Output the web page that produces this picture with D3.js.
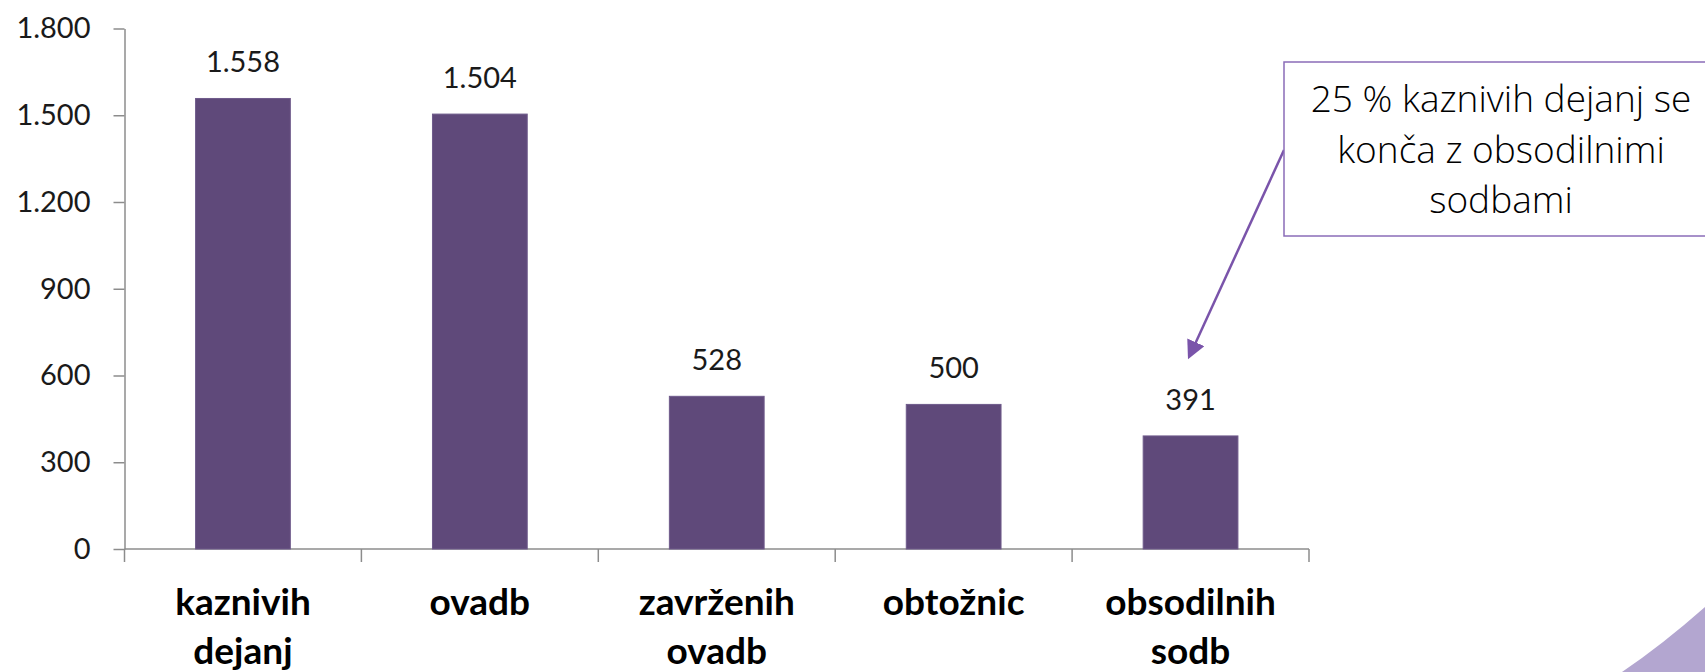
<!DOCTYPE html>
<html>
<head>
<meta charset="utf-8">
<script src="https://cdn.jsdelivr.net/npm/d3@7"></script>
<style>
  html, body { margin: 0; padding: 0; background: #fff; }
  svg { display: block; }
</style>
</head>
<body>
<div id="viz"></div>
<script>
'use strict';

// data
const categories = ["kaznivih dejanj", "ovadb", "zavrženih ovadb", "obtožnic", "obsodilnih sodb"];
const values = [1558, 1504, 528, 500, 391];
const yTicks = [0, 300, 600, 900, 1200, 1500, 1800];
const noteLines = ["25 % kaznivih dejanj se", "konča z obsodilnimi", "sodbami"];

const width = 1705;
const height = 672;
const margin = {top: 28.5, right: 396, bottom: 123, left: 124.5};

const svg = d3.select("#viz")
    .append("svg")
    .attr("width", width)
    .attr("height", height);

// slovenian number format: 1.558
const sl = d3.formatLocale({decimal: ",", thousands: ".", grouping: [3], currency: ["", " €"]});
const fmt = sl.format(",");

let x = d3.scaleBand()
    .domain(categories)
    .range([margin.left, width - margin.right])
    .padding(0);

let y = d3.scaleLinear()
    .domain([0, 1800])
    .range([height - margin.bottom, margin.top]);

const axisColor = "#8c8c8c";

// corner decoration
svg.append("path")
    .attr("d", "M1622,672 Q1662,645 1705,607 L1705,672 Z")
    .attr("fill", "#b3a6d0");

// y axis
const yAxis = svg.append("g")
    .attr("transform", `translate(${margin.left},0)`)
    .call(d3.axisLeft(y).tickValues(yTicks).tickSize(11).tickSizeOuter(0).tickPadding(23).tickFormat(fmt));
yAxis.selectAll("path, line").attr("stroke", axisColor).attr("stroke-width", 1.5);
yAxis.selectAll("text")
    .attr("fill", "#1a1a1a")
    .style("font-family", "Lato, 'Liberation Sans', sans-serif")
    .style("font-size", "29px");

// x axis line and category boundary ticks
const x0 = y(0);
svg.append("line")
    .attr("x1", margin.left).attr("x2", width - margin.right)
    .attr("y1", x0).attr("y2", x0)
    .attr("stroke", axisColor).attr("stroke-width", 1.5);

const bounds = categories.map(c => x(c)).concat([x.range()[1]]);
svg.append("g").selectAll("line")
    .data(bounds)
    .enter()
    .append("line")
    .attr("x1", d => d).attr("x2", d => d)
    .attr("y1", x0).attr("y2", x0 + 13)
    .attr("stroke", axisColor).attr("stroke-width", 1.5);

// bars
const barW = x.bandwidth() * 0.4;
svg.append("g").selectAll("rect")
    .data(values)
    .enter()
    .append("rect")
    .attr("x", (d, i) => x(categories[i]) + (x.bandwidth() - barW) / 2)
    .attr("y", d => y(d))
    .attr("width", barW)
    .attr("height", d => y(0) - y(d))
    .attr("fill", "#5f497a")
    .attr("stroke", "#6f5b8b")
    .attr("stroke-width", 1);

// value labels
svg.append("g").selectAll("text")
    .data(values)
    .enter()
    .append("text")
    .attr("x", (d, i) => x(categories[i]) + x.bandwidth() / 2)
    .attr("y", d => y(d) - 26)
    .attr("text-anchor", "middle")
    .attr("fill", "#1a1a1a")
    .style("font-family", "Lato, 'Liberation Sans', sans-serif")
    .style("font-size", "29px")
    .text(d => fmt(d));

// category labels, two lines
const catLabels = svg.append("g").selectAll("text")
    .data(categories)
    .enter()
    .append("text")
    .attr("text-anchor", "middle")
    .attr("fill", "#000")
    .style("font-family", "Lato, 'Liberation Sans', sans-serif")
    .style("font-weight", "bold")
    .style("font-size", "37px");
catLabels.each(function(d) {
    const cx = x(d) + x.bandwidth() / 2;
    d3.select(this).selectAll("tspan")
        .data(d.split(" "))
        .enter()
        .append("tspan")
        .attr("x", cx)
        .attr("y", (w, j) => x0 + 66 + j * 49)
        .text(w => w);
});

// annotation box + arrow
const purple = "#7a54aa";
svg.append("defs").append("marker")
    .attr("id", "head")
    .attr("viewBox", "0 0 10 10")
    .attr("refX", 8).attr("refY", 5)
    .attr("markerWidth", 7.5).attr("markerHeight", 7.5)
    .attr("markerUnits", "strokeWidth")
    .attr("orient", "auto")
    .append("path")
    .attr("d", "M0,0 L10,5 L0,10 Z")
    .attr("fill", purple);

const box = {x: 1284, y: 62, w: 434, h: 174};
const last = categories[categories.length - 1];
svg.append("line")
    .attr("x1", box.x).attr("y1", box.y + 88)
    .attr("x2", x(last) + x.bandwidth() / 2 - 1)
    .attr("y2", y(values[values.length - 1]) - 80)
    .attr("stroke", purple)
    .attr("stroke-width", 2.5)
    .attr("marker-end", "url(#head)");

svg.append("rect")
    .attr("x", box.x).attr("y", box.y)
    .attr("width", box.w).attr("height", box.h)
    .attr("fill", "#fff")
    .attr("stroke", "#8a6cb8")
    .attr("stroke-width", 1.5);

svg.append("text")
    .attr("text-anchor", "middle")
    .attr("fill", "#000")
    .style("font-family", "'Open Sans', 'Noto Sans', sans-serif")
    .style("font-weight", 300)
    .style("font-size", "37px")
    .selectAll("tspan")
    .data(noteLines)
    .enter()
    .append("tspan")
    .attr("x", 1501)
    .attr("y", (d, i) => 112 + i * 50.5)
    .text(d => d);
</script>
</body>
</html>
